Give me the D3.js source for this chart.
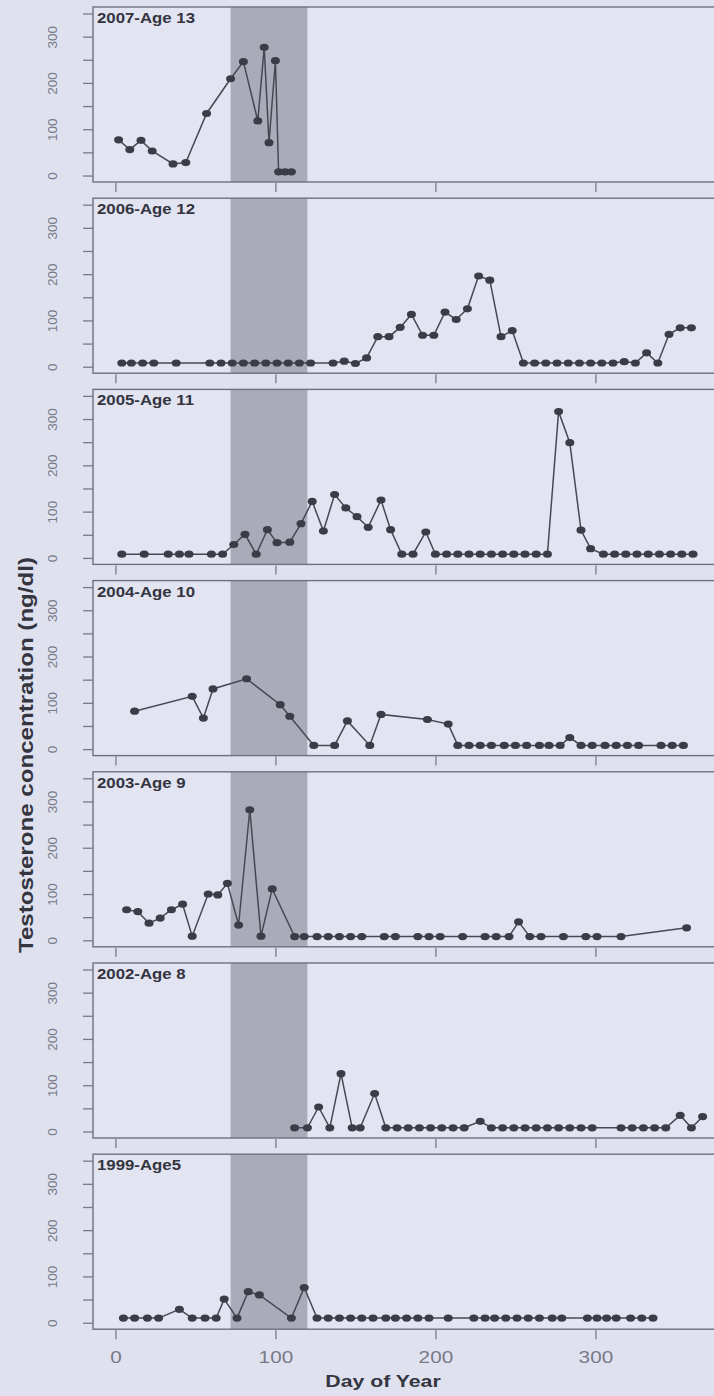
<!DOCTYPE html>
<html>
<head>
<meta charset="utf-8">
<script src="https://cdn.jsdelivr.net/npm/d3@7"></script>
<style>
    body { margin: 0; background: #dfe1ef; }
    svg { display: block; font-family: 'Liberation Sans', Arial, sans-serif; }
</style>
</head>
<body>
<svg></svg>
<script>
// ---------------------------------------------------------
// Data (day of year, testosterone ng/dl)
const panelLabels = ['2007-Age 13', '2006-Age 12', '2005-Age 11', '2004-Age 10', '2003-Age 9', '2002-Age 8', '1999-Age5'];

const days2007 = [2, 9, 16, 23, 36, 44, 57, 72, 80, 89, 93, 96, 100, 102, 106, 110];
const conc2007 = [77, 56, 76, 53, 25, 28, 134, 209, 246, 118, 277, 71, 248, 8, 8, 8];

const days2006 = [4, 10, 17, 24, 38, 59, 66, 73, 80, 87, 94, 101, 108, 115, 122, 136, 143, 150, 157, 164,
    171, 178, 185, 192, 199, 206, 213, 220, 227, 234, 241, 248, 255, 262, 269, 276, 283, 290, 297, 304,
    311, 318, 325, 332, 339, 346, 353, 360];
const conc2006 = [8, 8, 8, 8, 8, 8, 8, 8, 8, 8, 8, 8, 8, 8, 8, 8, 12, 7, 19, 65,
    65, 85, 113, 68, 68, 118, 102, 125, 196, 187, 65, 78, 8, 8, 8, 8, 8, 8, 8, 8,
    8, 11, 8, 30, 8, 70, 84, 84];

const days2005 = [4, 18, 33, 40, 46, 60, 67, 74, 81, 88, 95, 101, 109, 116, 123, 130, 137, 144, 151, 158,
    166, 172, 179, 186, 194, 200, 207, 214, 221, 228, 235, 242, 249, 256, 263, 270, 277, 284, 291, 297,
    305, 312, 319, 326, 333, 340, 347, 354, 361];
const conc2005 = [8, 8, 8, 8, 8, 8, 8, 29, 51, 8, 61, 33, 34, 74, 122, 58, 137, 108, 89, 66,
    125, 61, 8, 8, 56, 8, 8, 8, 8, 8, 8, 8, 8, 8, 8, 8, 316, 249, 60, 20,
    8, 8, 8, 8, 8, 8, 8, 8, 8];

const days2004 = [12, 48, 55, 61, 82, 103, 109, 124, 137, 145, 159, 166, 195, 208, 214, 221, 228, 235, 243, 250,
    257, 265, 271, 278, 284, 291, 298, 306, 313, 320, 327, 341, 348, 355];
const conc2004 = [82, 114, 67, 130, 152, 96, 71, 8, 8, 61, 8, 75, 64, 54, 8, 8, 8, 8, 8, 8,
    8, 8, 8, 8, 25, 8, 8, 8, 8, 8, 8, 8, 8, 8];

const days2003 = [7, 14, 21, 28, 35, 42, 48, 58, 64, 70, 77, 84, 91, 98, 112, 118, 126, 133, 140, 147,
    154, 168, 175, 189, 196, 203, 217, 231, 238, 246, 252, 259, 266, 280, 294, 301, 316, 357];
const conc2003 = [66, 62, 37, 48, 66, 78, 9, 100, 98, 123, 33, 282, 9, 111, 8, 8, 8, 8, 8, 8,
    8, 8, 8, 8, 8, 8, 8, 8, 8, 8, 40, 8, 8, 8, 8, 8, 8, 27];

const days2002 = [112, 120, 127, 134, 141, 148, 153, 162, 169, 176, 183, 190, 197, 204, 211, 218, 228, 235, 242, 249,
    256, 263, 270, 277, 284, 291, 298, 316, 323, 330, 337, 344, 353, 360, 367];
const conc2002 = [8, 8, 53, 8, 125, 8, 8, 82, 8, 8, 8, 8, 8, 8, 8, 8, 22, 8, 8, 8,
    8, 8, 8, 8, 8, 8, 8, 8, 8, 8, 8, 8, 35, 8, 32];

const days1999 = [5, 12, 20, 27, 40, 48, 56, 63, 68, 76, 83, 90, 110, 118, 126, 133, 140, 147, 154, 161,
    169, 175, 182, 189, 196, 208, 224, 231, 237, 244, 251, 258, 265, 273, 279, 295, 301, 307, 313, 322,
    329, 336];
const conc1999 = [10, 10, 10, 10, 29, 10, 10, 10, 51, 10, 67, 60, 10, 76, 10, 10, 10, 10, 10, 10,
    10, 10, 10, 10, 10, 10, 10, 10, 10, 10, 10, 10, 10, 10, 10, 10, 10, 10, 10, 10,
    10, 10];

const panelDays = [days2007, days2006, days2005, days2004, days2003, days2002, days1999];
const panelConc = [conc2007, conc2006, conc2005, conc2004, conc2003, conc2002, conc1999];

const shadeDays = [72, 120];
const xTicks = [0, 100, 200, 300];
const yTicks = [0, 50, 100, 150, 200, 250, 300, 350];
const yLabels = [0, 100, 200, 300];

// ---------------------------------------------------------
// Layout
const canvasW = 714;
const canvasH = 1396;
const margins = { left: 93, top: 7 };
const panelH = 175;
const panelStep = 191.2;

const svg = d3.select('svg').attr('width', canvasW).attr('height', canvasH);
svg.append('rect').attr('width', canvasW).attr('height', canvasH).attr('fill', '#dfe1ef');

const xScale = d3.scaleLinear().domain([-14, 380]).range([margins.left, margins.left + 394 * 1.6]);

const lineCol = '#474852';
const textCol = '#34353f';
const tickCol = '#787a87';

panelLabels.forEach((label, i) => {
    const top = margins.top + i * panelStep;
    const yScale = d3.scaleLinear().domain([-14, 364]).range([top + panelH, top]);
    const g = svg.append('g').attr('class', 'panel');

    // plot area and shaded band
    g.append('rect')
        .attr('x', xScale.range()[0])
        .attr('y', top)
        .attr('width', xScale.range()[1] - xScale.range()[0])
        .attr('height', panelH)
        .attr('fill', '#e2e4f1');
    g.append('rect')
        .attr('x', xScale(shadeDays[0]))
        .attr('y', top)
        .attr('width', xScale(shadeDays[1]) - xScale(shadeDays[0]))
        .attr('height', panelH)
        .attr('fill', '#a9abb9');

    // y axis (ticks every 50, labels every 100, rotated)
    const yAxis = d3.axisLeft(yScale)
        .tickValues(yTicks)
        .tickSize(10)
        .tickFormat((d) => (yLabels.includes(d) ? d : ''));
    const ya = g.append('g')
        .attr('transform', `translate(${margins.left},0)`)
        .call(yAxis);
    ya.select('.domain').remove();
    ya.selectAll('line').attr('stroke', tickCol).attr('stroke-width', 1.3);
    ya.selectAll('text')
        .attr('transform', 'rotate(-90)')
        .attr('x', 0)
        .attr('y', -36)
        .attr('dy', null)
        .attr('text-anchor', 'middle')
        .attr('fill', tickCol)
        .style('font-size', '13.5px')
        .style('font-family', "'Liberation Sans', Arial, sans-serif");

    // x axis (labels only under the last panel)
    const last = i === panelLabels.length - 1;
    const xAxis = d3.axisBottom(xScale)
        .tickValues(xTicks)
        .tickSize(9)
        .tickFormat((d) => (last ? d : ''));
    const xa = g.append('g')
        .attr('transform', `translate(0,${top + panelH + 1})`)
        .call(xAxis);
    xa.select('.domain').remove();
    xa.selectAll('line').attr('stroke', tickCol).attr('stroke-width', 1.3);
    xa.selectAll('text')
        .attr('y', 33)
        .attr('dy', null)
        .attr('transform', 'scale(1.22,1)')
        .attr('fill', tickCol)
        .style('font-size', '17px')
        .style('font-family', "'Liberation Sans', Arial, sans-serif");

    // series line and points
    const pts = panelDays[i].map((d, k) => [d, panelConc[i][k]]);
    const line = d3.line()
        .x((d) => xScale(d[0]))
        .y((d) => yScale(d[1]));
    g.append('path')
        .datum(pts)
        .attr('d', line)
        .attr('fill', 'none')
        .attr('stroke', lineCol)
        .attr('stroke-width', 1.5);
    g.selectAll('.dot')
        .data(pts)
        .enter()
        .append('ellipse')
        .attr('class', 'dot')
        .attr('cx', (d) => xScale(d[0]))
        .attr('cy', (d) => yScale(d[1]))
        .attr('rx', 4.5)
        .attr('ry', 3.6)
        .attr('fill', '#3b3c45');

    // box
    g.append('rect')
        .attr('x', xScale.range()[0])
        .attr('y', top)
        .attr('width', xScale.range()[1] - xScale.range()[0])
        .attr('height', panelH)
        .attr('fill', 'none')
        .attr('stroke', '#6f717e')
        .attr('stroke-width', 1.4);

    // panel label
    g.append('text')
        .text(label)
        .attr('transform', `translate(97,${top + 16}) scale(1.2,1)`)
        .attr('fill', textCol)
        .style('font-size', '14px')
        .style('font-weight', 'bold');
});

// ---------------------------------------------------------
// Axis titles
svg.append('text')
    .text('Testosterone concentration (ng/dl)')
    .attr('transform', 'translate(33,755) rotate(-90)')
    .attr('text-anchor', 'middle')
    .attr('textLength', 396)
    .attr('lengthAdjust', 'spacingAndGlyphs')
    .attr('fill', textCol)
    .style('font-size', '21px')
    .style('font-weight', 'bold');

svg.append('text')
    .text('Day of Year')
    .attr('transform', 'translate(383,1387) scale(1.25,1)')
    .attr('text-anchor', 'middle')
    .attr('fill', textCol)
    .style('font-size', '17px')
    .style('font-weight', 'bold');
</script>
</body>
</html>
